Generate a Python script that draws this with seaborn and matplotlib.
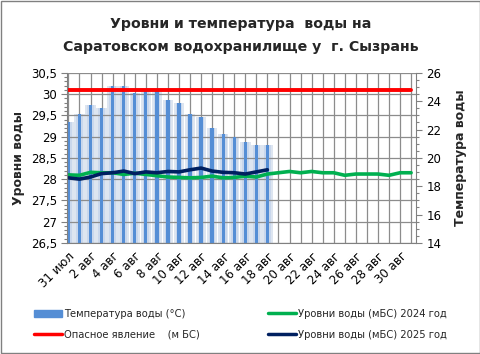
import numpy as np
import seaborn as sns
import matplotlib.pyplot as plt
from matplotlib.lines import Line2D
from matplotlib.patches import Patch, Rectangle
from matplotlib.ticker import MultipleLocator, FuncFormatter

sns.set_style('white')
plt.rcParams['font.family'] = ['DejaVu Sans']

dates = ['31 июл'] + ['%d авг' % d for d in range(1, 32)]
temp = [22.5, 23.1, 23.7, 23.5, 25.1, 25.1, 24.6, 24.8, 24.8, 24.1,
        23.9, 23.1, 22.9, 22.1, 21.7, 21.5, 21.1, 20.9, 20.9]
level_2024 = [28.10, 28.09, 28.16, 28.15, 28.15, 28.11, 28.14, 28.11, 28.08, 28.05,
              28.04, 28.03, 28.04, 28.07, 28.03, 28.04, 28.07, 28.05, 28.12, 28.15,
              28.18, 28.15, 28.18, 28.15, 28.15, 28.09, 28.12, 28.12, 28.12, 28.09,
              28.15, 28.15]
level_2025 = [28.03, 28.00, 28.05, 28.13, 28.15, 28.19, 28.13, 28.17, 28.15, 28.18,
              28.17, 28.22, 28.26, 28.19, 28.16, 28.15, 28.12, 28.17, 28.22]
danger = [30.1] * len(dates)

x_all = np.arange(len(dates))
x_t = np.arange(len(temp))

fig = plt.figure(figsize=(4.81, 3.54), dpi=100)
ax = fig.add_axes([0.140, 0.314, 0.725, 0.480])
ax2 = ax.twinx()
ax.set_zorder(ax2.get_zorder() + 1)
ax.patch.set_visible(False)
ax2.set_facecolor('#F2F2F2')

# сетка (по левой оси) - на ax2
for xv in x_all:
    ax2.axvline(xv, color='#8C8C8C', lw=0.9, zorder=0)
for yv in np.linspace(14, 26, 9):
    ax2.axhline(yv, color='#8C8C8C', lw=0.9, zorder=1.5)

# столбцы температуры с "градиентом"
bar_c = '#558ED5'
h = np.array(temp) - 14
ax2.bar(x_t, h, bottom=14, width=0.95, color='#DDE5F0', lw=0, zorder=1)
ax2.bar(x_t, h, bottom=14, width=0.6, color='#C9D7EC', lw=0, zorder=1)
ax2.bar(x_t, h, bottom=14, width=0.3, color=bar_c, lw=0, zorder=2)
ax2.set_ylim(14, 26)
ax2.yaxis.set_major_locator(MultipleLocator(2))
ax2.yaxis.set_minor_locator(MultipleLocator(0.5))

sns.lineplot(x=x_all, y=danger, ax=ax, color='#FF0000', lw=2.8)
sns.lineplot(x=x_all, y=level_2024, ax=ax, color='#00B050', lw=2.6)
sns.lineplot(x=x_t, y=level_2025, ax=ax, color='#002060', lw=2.6)

ax.set_ylim(26.5, 30.5)
ax.set_xlim(-0.1, 31.45)
ax.yaxis.set_major_locator(MultipleLocator(0.5))
ax.yaxis.set_minor_locator(MultipleLocator(0.1))
ax.yaxis.set_major_formatter(FuncFormatter(lambda v, p: ('%g' % v).replace('.', ',')))

ax.set_xticks(x_all, minor=True)
ax.set_xticks(x_all[::2])
ax.set_xticklabels(dates[::2], rotation=45, ha='right', rotation_mode='anchor', fontsize=8)

for a in (ax, ax2):
    for s in a.spines.values():
        s.set_visible(False)
    a.tick_params(which='both', colors='#808080', labelcolor='black', labelsize=8.5)
    a.tick_params(which='major', length=4, width=0.8)
    a.tick_params(which='minor', length=2.5, width=0.8)
ax.spines['left'].set_visible(True)
ax.spines['left'].set_color('#808080')
ax.spines['bottom'].set_visible(True)
ax.spines['bottom'].set_color('#808080')
ax2.spines['right'].set_visible(True)
ax2.spines['right'].set_color('#808080')
ax.tick_params(axis='x', which='both', direction='out', length=3, pad=2)

ax.set_ylabel('Уровни воды', fontsize=9, fontweight='bold', labelpad=4)
ax2.set_ylabel('Температура воды', fontsize=9, fontweight='bold', labelpad=9, rotation=90)

fig.text(0.5, 0.933, 'Уровни и температура  воды на', ha='center', va='center',
         fontsize=10.2, fontweight='bold')
fig.text(0.5, 0.868, 'Саратовском водохранилище у  г. Сызрань', ha='center', va='center',
         fontsize=10.2, fontweight='bold')

leg_kw = dict(frameon=False, fontsize=7.2, handlelength=2.8, handletextpad=0.2,
              labelspacing=1.1, borderpad=0, borderaxespad=0, loc='center left')
leg1 = fig.legend([Patch(color=bar_c), Line2D([], [], color='#FF0000', lw=2.5)],
                  ['Температура воды (°С)', 'Опасное явление    (м БС)'],
                  bbox_to_anchor=(0.071, 0.084), **leg_kw)
leg2 = fig.legend([Line2D([], [], color='#00B050', lw=2.5), Line2D([], [], color='#002060', lw=2.5)],
                  ['Уровни воды (мБС) 2024 год', 'Уровни воды (мБС) 2025 год'],
                  bbox_to_anchor=(0.557, 0.084), **leg_kw)

fig.patches.append(Rectangle((0.002, 0.003), 0.995, 0.994, transform=fig.transFigure,
                             fill=False, edgecolor='#808080', lw=1))

fig.savefig('out.png', dpi=100)
